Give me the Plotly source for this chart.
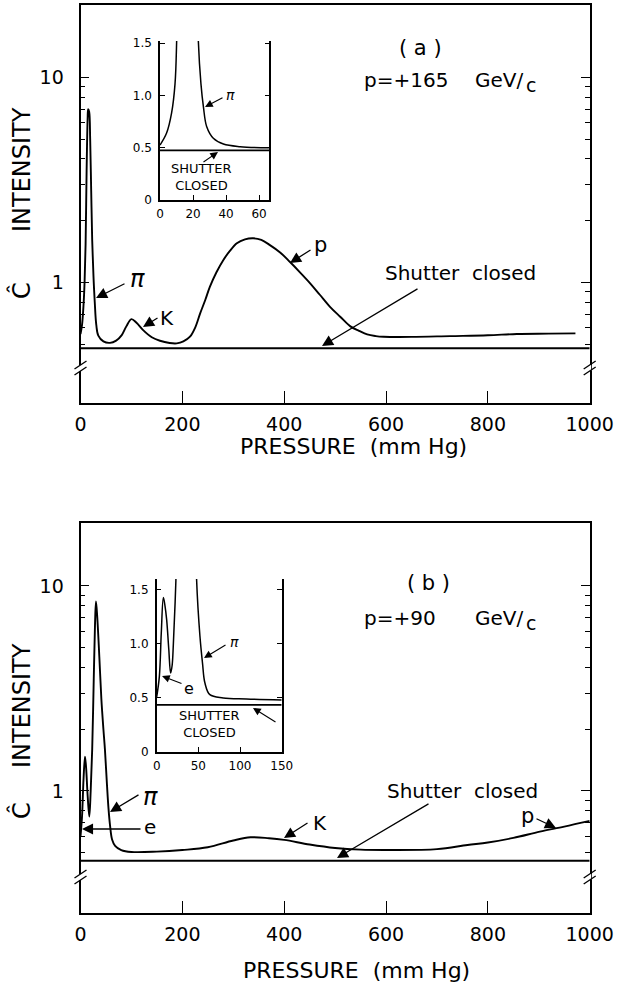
import plotly.graph_objects as go

W, H = 617, 985
FONT = "DejaVu Sans"

# ---------------- data ----------------
# panel (a) main curve, p = +165 GeV/c
xa = [0, 3, 6, 8, 10, 12, 14, 15, 17, 19, 21, 23, 24.5, 26, 28, 31, 35, 45, 58, 70, 81, 90, 100, 110, 123,
      140, 156, 175, 189, 202, 215, 225, 235, 245, 254, 267, 280, 293, 307, 323, 339, 355, 372, 392, 411,
      431, 451, 470, 490, 510, 530, 547, 563, 580, 595, 650, 726, 800, 857, 920, 972]
ya = [0.56, 0.62, 0.78, 1.0, 1.53, 3.5, 6.3, 7.0, 6.8, 5.0, 2.8, 1.6, 1.25, 1.0, 0.80, 0.62, 0.55, 0.515, 0.507,
      0.52, 0.553, 0.61, 0.662, 0.635, 0.585, 0.54, 0.519, 0.506, 0.504, 0.515, 0.543, 0.60, 0.706, 0.82,
      0.95, 1.12, 1.28, 1.42, 1.55, 1.62, 1.64, 1.61, 1.52, 1.40, 1.26, 1.12, 0.99, 0.87, 0.76, 0.68, 0.61,
      0.58, 0.557, 0.547, 0.543, 0.542, 0.547, 0.552, 0.56, 0.562, 0.564]
shutter_a = 0.477

# panel (a) inset
xa_in = [0, 4, 7, 9.1, 10.1, 11, 16, 22.3, 23.2, 24.8, 26.3, 28.3, 32.3, 38.4, 48.5, 66]
ya_in = [0.525, 0.64, 0.83, 1.11, 1.53, 2.3, 7.0, 2.3, 1.53, 1.11, 0.89, 0.70, 0.59, 0.535, 0.51, 0.50]
shutter_a_in = 0.475

# panel (b) main curve, p = +90 GeV/c
xb = [0, 3, 6, 8.8, 11, 14, 17.3, 20, 23, 26, 28.5, 30.4, 33, 37, 41, 45, 48, 52, 55, 58, 62, 68, 80, 100,
      150, 200, 250, 300, 334, 370, 400, 450, 500, 550, 600, 700, 760, 800, 850, 902, 950, 1000]
yb = [0.60, 0.75, 1.15, 1.47, 1.30, 0.95, 0.75, 1.0, 1.6, 3.5, 6.5, 8.4, 7.0, 4.5, 2.8, 2.0, 1.59, 1.07,
      0.82, 0.68, 0.58, 0.54, 0.515, 0.504, 0.506, 0.515, 0.531, 0.573, 0.594, 0.588, 0.577, 0.548, 0.527,
      0.517, 0.515, 0.52, 0.545, 0.56, 0.59, 0.633, 0.67, 0.714]
shutter_b = 0.457

# panel (b) inset
xb_in = [0, 3.2, 5.5, 8, 10, 12, 14.5, 16.7, 18.5, 20, 23, 25, 35, 46.5, 47.9, 51.9, 55, 57.8, 63.8, 79.8,
         107.8, 150]
yb_in = [0.51, 0.70, 1.1, 1.43, 1.35, 1.22, 0.95, 0.73, 0.80, 1.0, 1.58, 2.2, 8.0, 2.2, 1.59, 1.07, 0.82,
         0.64, 0.53, 0.50, 0.49, 0.48]
shutter_b_in = 0.435

x_ticks = [0, 200, 400, 600, 800, 1000]
y_major = [1, 10]
y_minor = [0.5, 0.6, 0.7, 0.8, 0.9, 2, 3, 4, 5, 6, 7, 8, 9]
xa_in_ticks = [0, 20, 40, 60]
xb_in_ticks = [0, 50, 100, 150]
y_in_ticks = [0, 0.5, 1.0, 1.5]
y_in_text = ["0", "0.5", "1.0", "1.5"]


def px(x):
    return x / W


def py(y):
    return 1 - y / H


fig = go.Figure()
line = dict(color="black", width=1.9)

fig.add_trace(go.Scatter(x=xa, y=ya, mode="lines", line=line, xaxis="x", yaxis="y", line_shape="spline"))
fig.add_trace(go.Scatter(x=[0, 1000], y=[shutter_a, shutter_a], mode="lines", line=dict(color="black", width=2),
                         xaxis="x", yaxis="y"))
fig.add_trace(go.Scatter(x=xa_in, y=ya_in, mode="lines", line=dict(color="black", width=1.5), xaxis="x2",
                         yaxis="y2", line_shape="spline"))
fig.add_trace(go.Scatter(x=[0, 66.2], y=[shutter_a_in, shutter_a_in], mode="lines",
                         line=dict(color="black", width=1.8), xaxis="x2", yaxis="y2"))
fig.add_trace(go.Scatter(x=xb, y=yb, mode="lines", line=line, xaxis="x3", yaxis="y3", line_shape="spline"))
fig.add_trace(go.Scatter(x=[0, 1000], y=[shutter_b, shutter_b], mode="lines", line=dict(color="black", width=2),
                         xaxis="x3", yaxis="y3"))
fig.add_trace(go.Scatter(x=xb_in, y=yb_in, mode="lines", line=dict(color="black", width=1.5), xaxis="x4",
                         yaxis="y4", line_shape="spline"))
fig.add_trace(go.Scatter(x=[0, 150], y=[shutter_b_in, shutter_b_in], mode="lines",
                         line=dict(color="black", width=1.8), xaxis="x4", yaxis="y4"))

main_x_dom = [px(80.5), px(589.7)]
tickfont = dict(family=FONT, size=19, color="black")
smallfont = dict(family=FONT, size=12, color="black")


def main_x(anchor):
    return dict(domain=main_x_dom, range=[0, 1000], anchor=anchor, showline=True, linecolor="black",
                linewidth=1.8, mirror=True, ticks="inside", ticklen=12, tickwidth=1.3, tickcolor="black",
                tickvals=x_ticks, ticktext=[str(v) for v in x_ticks], tickfont=tickfont, showgrid=False,
                zeroline=False, ticklabelstandoff=4, automargin=False)


def main_y(anchor, dom, rng):
    return dict(domain=dom, type="log", range=rng, anchor=anchor, showline=True, linecolor="black",
                linewidth=1.8, mirror="ticks", ticks="inside", ticklen=9, tickwidth=1.3, tickcolor="black",
                tickvals=y_major, ticktext=[str(v) for v in y_major], tickfont=tickfont, showgrid=False,
                zeroline=False, ticklabelstandoff=11, automargin=False,
                minor=dict(tickvals=y_minor, ticks="inside", ticklen=5, tickwidth=1.1, tickcolor="black",
                           showgrid=False))


def inset_x(anchor, dom, rng, tv):
    return dict(domain=dom, range=rng, anchor=anchor, showline=True, linecolor="black", linewidth=1.5,
                mirror=False, ticks="inside", ticklen=5, tickwidth=1.1, tickcolor="black", tickvals=tv,
                ticktext=[str(v) for v in tv], tickfont=smallfont, showgrid=False, zeroline=False,
                ticklabelstandoff=2, automargin=False)


def inset_y(anchor, dom, rng):
    return dict(domain=dom, range=rng, anchor=anchor, showline=True, linecolor="black", linewidth=1.5,
                mirror="ticks", ticks="inside", ticklen=5, tickwidth=1.1, tickcolor="black",
                tickvals=y_in_ticks, ticktext=y_in_text, tickfont=smallfont, showgrid=False, zeroline=False,
                ticklabelstandoff=4, automargin=False)


fig.update_layout(
    width=W, height=H, margin=dict(l=0, r=0, t=0, b=0, autoexpand=False), paper_bgcolor="white",
    plot_bgcolor="rgba(0,0,0,0)", showlegend=False,
    xaxis=main_x("y"),
    yaxis=main_y("x", [py(402.7), py(5)], [-0.587, 1.353]),
    xaxis2=inset_x("y2", [px(160), px(269.3)], [0, 66.2], xa_in_ticks),
    yaxis2=inset_y("x2", [py(200), py(41)], [0, 1.52]),
    xaxis3=main_x("y3"),
    yaxis3=main_y("x3", [py(912.7), py(523)], [-0.594, 1.307]),
    xaxis4=inset_x("y4", [px(156.7), px(281.7)], [0, 150], xb_in_ticks),
    yaxis4=inset_y("x4", [py(752), py(579)], [0, 1.6]),
)

ann = []


def text(t, x, y, size=20, xanchor="center", angle=0, align="center"):
    ann.append(dict(text=t, x=px(x), y=py(y), xref="paper", yref="paper", showarrow=False, xanchor=xanchor,
                    yanchor="middle", textangle=angle, align=align,
                    font=dict(family=FONT, size=size, color="black")))


def arrow(x0, y0, x1, y1, w=1.3, size=1.7):
    ann.append(dict(text="", x=px(x1), y=py(y1), xref="paper", yref="paper", showarrow=True, ax=x0 - x1,
                    ay=y0 - y1, arrowhead=2, arrowsize=size, arrowwidth=w, arrowcolor="black", standoff=0,
                    startstandoff=0))


# ---- panel (a) ----
text("( a )", 420, 48, 21)
text("p=+165", 362, 80, 20, xanchor="left")
text("GeV/", 473, 80, 20, xanchor="left")
text("c", 524, 85, 19, xanchor="left")
text("INTENSITY", 22, 170, 24, angle=-90)
text("Ĉ", 21, 290, 24, angle=-90)
text("PRESSURE  (mm Hg)", 354, 446, 22)
text("<i>π</i>", 137, 279, 24)
arrow(126, 283, 96, 298)
text("K", 167, 318, 20)
arrow(159, 317, 143, 327)
text("p", 320, 245, 21)
arrow(312, 249, 290, 263)
text("Shutter  closed", 460, 273, 20)
arrow(419, 288, 322, 346)
text("<i>π</i>", 230, 95, 14)
arrow(224, 97, 205, 107, 1.1, 1.4)
text("SHUTTER<br> CLOSED", 169, 177, 13, xanchor="left", align="left")
arrow(202, 163, 218, 152, 1.1, 1.4)

# ---- panel (b) ----
text("( b )", 428, 583, 21)
text("p=+90", 362, 618, 20, xanchor="left")
text("GeV/", 473, 618, 20, xanchor="left")
text("c", 524, 623, 19, xanchor="left")
text("INTENSITY", 22, 706, 24, angle=-90)
text("Ĉ", 21, 810, 24, angle=-90)
text("PRESSURE  (mm Hg)", 356, 970, 22)
text("<i>π</i>", 150, 797, 24)
arrow(140, 794, 110, 812)
text("e", 150, 827, 20)
arrow(142, 829, 82, 829)
text("K", 320, 823, 20)
arrow(309, 822, 284, 838)
text("p", 527, 816, 21)
arrow(535, 818, 556, 828)
text("Shutter  closed", 462, 791, 20)
arrow(430, 803, 337, 858)
text("<i>π</i>", 234, 642, 14)
arrow(227, 644, 204, 658, 1.1, 1.4)
text("e", 189, 688, 16)
arrow(183, 684, 162, 676, 1.1, 1.4)
text("SHUTTER<br> CLOSED", 177, 724, 13, xanchor="left", align="left")
arrow(277, 723, 253, 708, 1.1, 1.4)

fig.update_layout(annotations=ann)

# axis-break marks "//" on both vertical axes
shapes = []
for ybrk in (368, 877):
    for xa_ in (80.5, 589.7):
        shapes.append(dict(type="line", xref="paper", yref="paper", x0=px(xa_), x1=px(xa_),
                           y0=py(ybrk + 3), y1=py(ybrk - 3), line=dict(color="white", width=3)))
        for dy in (-3, 3):
            shapes.append(dict(type="line", xref="paper", yref="paper", x0=px(xa_ - 6), y0=py(ybrk + dy + 4),
                               x1=px(xa_ + 6), y1=py(ybrk + dy - 4), line=dict(color="black", width=1.4)))
fig.update_layout(shapes=shapes)

fig.write_html("out.html")
